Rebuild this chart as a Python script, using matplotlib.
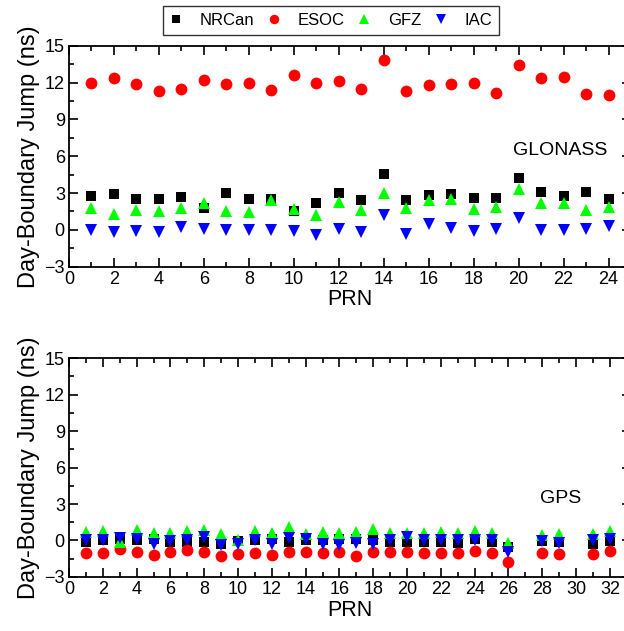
import numpy as np
import matplotlib.pyplot as plt

plt.rcParams['font.family'] = ['Liberation Sans', 'DejaVu Sans']

# GLONASS day-boundary jumps (ns), PRN 1-24
prn_glo = np.arange(1, 25)
glo_nrcan = [2.8, 2.9, 2.5, 2.5, 2.7, 1.8, 3.0, 2.5, 2.5, 1.55, 2.2, 2.97,
             2.4, 4.55, 2.4, 2.88, 2.9, 2.6, 2.6, 4.25, 3.05, 2.77, 3.1, 2.55]
glo_esoc = [12.0, 12.4, 11.9, 11.3, 11.5, 12.2, 11.9, 12.0, 11.4, 12.6, 12.0, 12.1,
            11.47, 13.85, 11.33, 11.8, 11.9, 11.93, 11.14, 13.45, 12.4, 12.47, 11.1, 10.98]
glo_gfz = [1.77, 1.28, 1.66, 1.55, 1.77, 2.2, 1.55, 1.44, 2.45, 1.7, 1.2, 2.28,
           1.63, 2.99, 1.8, 2.4, 2.53, 1.7, 1.9, 3.3, 2.17, 2.23, 1.6, 1.85]
glo_iac = [0.0, -0.2, -0.05, -0.15, 0.2, 0.05, 0.0, 0.0, 0.0, -0.05, -0.4, 0.08,
           -0.14, 1.22, -0.33, 0.52, 0.19, -0.08, 0.05, 1.0, 0.0, -0.03, 0.08, 0.3]

# GPS day-boundary jumps (ns), PRN 1-32 (no data for PRN 27 and 30)
nan = np.nan
prn_gps = np.arange(1, 33)
gps_nrcan = [-0.1, 0.0, 0.1, 0.0, 0.1, -0.1, -0.15, -0.1, -0.3, -0.05, 0.0, 0.1,
             -0.1, 0.05, 0.05, 0.1, 0.1, 0.0, -0.1, -0.1, -0.15, -0.1, -0.2, 0.1,
             -0.15, -0.5, nan, -0.05, -0.1, nan, -0.3, -0.05]
gps_esoc = [-0.99, -1.0, -0.74, -0.94, -1.16, -0.96, -0.8, -0.94, -1.24, -1.1, -1.0, -1.21,
            -0.94, -0.94, -1.02, -0.93, -1.24, -0.96, -0.91, -0.94, -1.05, -0.99, -1.05, -0.83,
            -1.05, -1.74, nan, -1.05, -1.07, nan, -1.1, -0.85]
gps_gfz = [0.72, 0.77, -0.14, 0.9, 0.63, 0.58, 0.77, 0.85, 0.5, 0.08, 0.77, 0.58,
           1.07, 0.52, 0.72, 0.65, 0.66, 0.96, 0.63, 0.58, 0.58, 0.66, 0.63, 0.8,
           0.58, -0.19, nan, 0.47, 0.52, nan, 0.52, 0.77]
gps_iac = [0.08, 0.08, 0.17, 0.14, -0.25, -0.03, 0.08, 0.3, -0.33, -0.28, 0.03, -0.25,
           0.2, 0.14, -0.25, -0.33, -0.22, -0.3, 0.03, 0.25, 0.08, 0.03, 0.03, 0.03,
           0.03, -0.94, nan, -0.03, -0.19, nan, 0.03, 0.14]

centers = ['NRCan', 'ESOC', 'GFZ', 'IAC']
styles = [('s', 'black', 7.5), ('o', 'red', 8.5), ('^', '#00ff00', 9), ('v', 'blue', 9)]

fig = plt.figure(figsize=(6.24, 6.31), dpi=100)
ax1 = fig.add_axes([0.1106, 0.5773, 0.9006, 0.3502])
ax2 = fig.add_axes([0.1106, 0.0856, 0.9006, 0.347])


def draw(ax, x, series, xmax, name, name_y):
    handles = []
    for (m, c, s), y, lab in zip(styles, series, centers):
        h, = ax.plot(x, y, linestyle='none', marker=m, color=c, markersize=s,
                     markeredgewidth=0, label=lab)
        handles.append(h)
    ax.set_xlim(0, xmax)
    ax.set_ylim(-3, 15)
    ax.set_xticks(np.arange(0, int(xmax) + 1, 2))
    ax.set_xticks(np.arange(0, int(xmax) + 1, 1), minor=True)
    ax.set_yticks(np.arange(-3, 16, 3))
    ax.set_yticks(np.arange(-3, 15.1, 1.5), minor=True)
    ax.tick_params(which='both', direction='in', top=True, right=True,
                   width=1.2, labelsize=13, pad=3)
    ax.tick_params(which='major', length=6.5)
    ax.tick_params(which='minor', length=3.5)
    for sp in ax.spines.values():
        sp.set_linewidth(1.3)
    ax.set_xlabel('PRN', fontsize=15.5, labelpad=1)
    ax.set_ylabel('Day-Boundary Jump (ns)', fontsize=17, labelpad=3)
    ax.text(0.874, name_y, name, transform=ax.transAxes,
            fontsize=14, ha='center', va='center')
    return handles


handles = draw(ax1, prn_glo, [glo_nrcan, glo_esoc, glo_gfz, glo_iac], 25, 'GLONASS', 0.528)
draw(ax2, prn_gps, [gps_nrcan, gps_esoc, gps_gfz, gps_iac], 33.25, 'GPS', 0.36)

leg = fig.legend(handles, centers, loc='upper center', bbox_to_anchor=(0.53, 0.99),
                 ncol=4, fontsize=12, frameon=True, fancybox=False,
                 handlelength=0.8, handletextpad=1.0, columnspacing=0.8,
                 borderpad=0.4, borderaxespad=0.0, markerscale=0.8)
leg.get_frame().set_edgecolor('black')
leg.get_frame().set_linewidth(1.0)

fig.savefig('out.png', dpi=100)
